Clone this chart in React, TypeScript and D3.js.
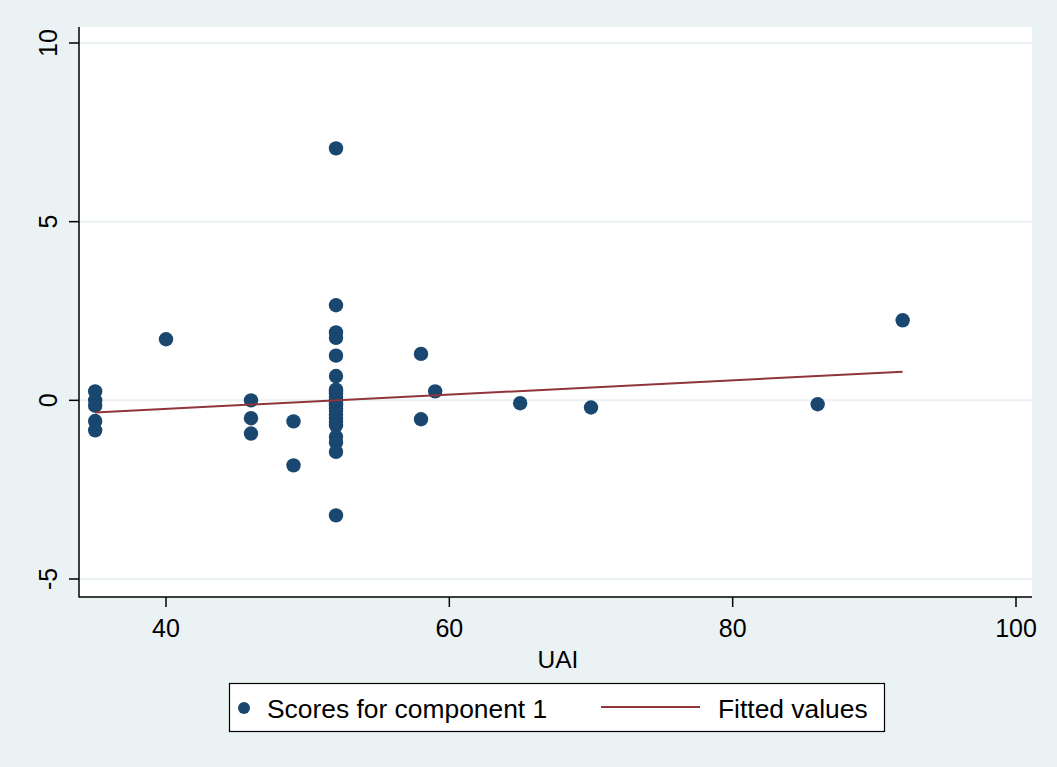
import React from "react";
import * as d3 from "d3";

// UAI values and the matching scores for component 1
const uai = [
  35, 35, 35, 35, 35,
  40,
  46, 46, 46,
  49, 49,
  52, 52, 52, 52, 52, 52, 52, 52, 52, 52, 52, 52, 52, 52, 52, 52, 52, 52, 52, 52, 52, 52, 52, 52,
  58, 58, 59, 65, 70, 86, 92,
];
const scores = [
  0.25, 0.0, -0.15, -0.58, -0.84,
  1.71,
  0.0, -0.5, -0.93,
  -0.59, -1.82,
  7.05, 2.66, 1.9, 1.75, 1.25, 0.68, 0.3, 0.25, 0.2, 0.1, 0.02, -0.06, -0.1, -0.14, -0.22, -0.3, -0.4, -0.5, -0.6, -0.7, -1.02, -1.18, -1.44, -3.22,
  1.3, -0.53, 0.25, -0.08, -0.2, -0.11, 2.24,
];
const points = uai.map((u, i) => ({ x: u, y: scores[i] }));

// Linear fit endpoints (fitted values)
const fitX = [35, 92];
const fitY = [-0.34, 0.8];

const xTicks = [40, 60, 80, 100];
const yTicks = [-5, 0, 5, 10];

const W = 1057;
const H = 767;
const BG = "#eaf2f3";
const DOT = "#1a476f";
const FIT = "#90353b";
const FONT = "'Liberation Sans', Arial, sans-serif";

export default function App() {
  React.useEffect(() => {
    document.body.style.margin = "0";
  }, []);

  const plot = { left: 79, right: 1032, top: 27, bottom: 597 };
  const x = d3.scaleLinear().domain([40, 100]).range([166, 1016]);
  const y = d3.scaleLinear().domain([-5, 10]).range([579, 43]);

  const line = d3
    .line<number>()
    .x((d) => x(d))
    .y((_, i) => y(fitY[i]));

  return (
    <svg width={W} height={H} style={{ display: "block" }} fontFamily={FONT}>
      <rect x={0} y={0} width={W} height={H} fill={BG} />
      <rect
        x={plot.left}
        y={plot.top}
        width={plot.right - plot.left}
        height={plot.bottom - plot.top}
        fill="#ffffff"
      />
      {/* horizontal grid */}
      {yTicks.map((t) => (
        <line
          key={"g" + t}
          x1={plot.left}
          x2={plot.right}
          y1={y(t)}
          y2={y(t)}
          stroke={BG}
          strokeWidth={2}
        />
      ))}
      {/* markers */}
      {points.map((p, i) => (
        <circle key={i} cx={x(p.x)} cy={y(p.y)} r={7.2} fill={DOT} />
      ))}
      {/* fitted line */}
      <path d={line(fitX) || ""} fill="none" stroke={FIT} strokeWidth={2} />
      {/* axes */}
      <line x1={plot.left} x2={plot.left} y1={plot.top} y2={plot.bottom + 0.5} stroke="#000" strokeWidth={1.5} />
      <line x1={plot.left} x2={plot.right} y1={plot.bottom} y2={plot.bottom} stroke="#000" strokeWidth={1.5} />
      {yTicks.map((t) => (
        <g key={"y" + t}>
          <line x1={plot.left - 10} x2={plot.left} y1={y(t)} y2={y(t)} stroke="#000" strokeWidth={1.5} />
          <text
            transform={`translate(${57},${y(t)}) rotate(-90)`}
            textAnchor="middle"
            fontSize={25}
            fill="#000"
          >
            {t}
          </text>
        </g>
      ))}
      {xTicks.map((t) => (
        <g key={"x" + t}>
          <line x1={x(t)} x2={x(t)} y1={plot.bottom} y2={plot.bottom + 10} stroke="#000" strokeWidth={1.5} />
          <text x={x(t)} y={637} textAnchor="middle" fontSize={25} fill="#000">
            {t}
          </text>
        </g>
      ))}
      <text x={558} y={668} textAnchor="middle" fontSize={24.5} fill="#000">
        UAI
      </text>
      {/* legend */}
      <rect x={229.5} y={683.5} width={655} height={48} fill="#fff" stroke="#000" strokeWidth={1.2} />
      <circle cx={244} cy={708} r={6} fill={DOT} />
      <text x={267} y={718} fontSize={26.4} fill="#000">
        Scores for component 1
      </text>
      <line x1={601} x2={700} y1={707} y2={707} stroke={FIT} strokeWidth={2} />
      <text x={718} y={718} fontSize={26.4} fill="#000">
        Fitted values
      </text>
    </svg>
  );
}
